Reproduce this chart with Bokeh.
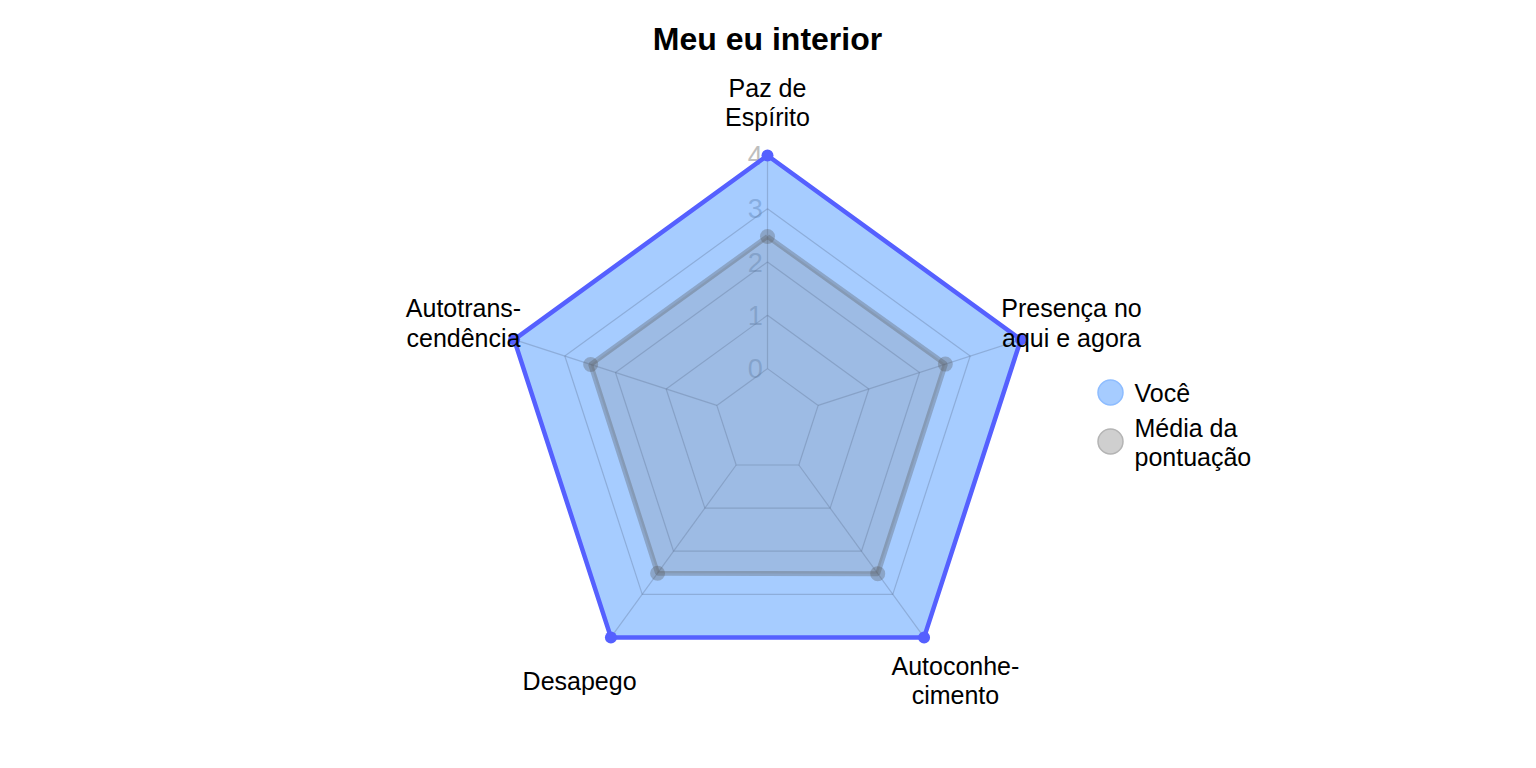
import numpy as np
from bokeh.plotting import figure
from bokeh.models import Range1d
from bokeh.core.properties import value
from bokeh.embed import file_html
from bokeh.resources import INLINE

# ---- data ----
categories = ["Paz de\nEspírito", "Autotrans-\ncendência", "Desapego",
              "Autoconhe-\ncimento", "Presença no\naqui e agora"]
voce = [4, 4, 4, 4, 4]
media = [2.48, 2.49, 2.51, 2.52, 2.51]
levels = [0, 1, 2, 3, 4]
level_labels = ["0", "1", "2", "3", "4"]
series_names = ["Você", "Média da\npontuação"]
title_text = "Meu eu interior"

# ---- geometry ----
W, H = 1536, 768
PX = 53.28          # pixels per data unit
CX, CY = 767, 421.4  # centre in pixels (from top-left)
n = len(categories)
ang = np.pi / 2 + np.arange(n) * 2 * np.pi / n  # counter-clockwise from top


def rad(v):
    return np.asarray(v, dtype=float) + 1.0   # fmsb-style: min value at 1/(seg+1)


def xy(vals):
    r = rad(vals)
    return list(r * np.cos(ang)), list(r * np.sin(ang))


p = figure(width=W, height=H, output_backend="svg", toolbar_location=None,
           x_range=Range1d(-CX / PX, (W - CX) / PX),
           y_range=Range1d(-(H - CY) / PX, CY / PX),
           min_border=0, outline_line_color=None)
p.axis.visible = False
p.grid.visible = False
p.background_fill_color = "white"
p.border_fill_color = "white"

FONT = value("Liberation Sans")

# axis value labels (drawn beneath the fills)
p.text(x=[-0.09] * len(levels), y=list(rad(levels)), text=level_labels,
       text_font=FONT, text_font_size="27px", text_color="#bebebe",
       text_align="right", text_baseline="middle")

# Você polygon
vx, vy = xy(voce)
p.patch(vx, vy, fill_color="#4d99ff", fill_alpha=0.5, line_color=None)
# Média polygon
mx, my = xy(media)
p.patch(mx, my, fill_color="#808080", fill_alpha=0.21, line_color=None)

# grid rings
for lv in levels:
    gx, gy = xy([lv] * n)
    p.line(gx + [gx[0]], gy + [gy[0]], line_color="#5a6e8c", line_alpha=0.32, line_width=1.2)
# radial axes from inner ring to outer ring
r0, r1 = rad(levels[0]), rad(levels[-1])
p.segment(x0=list(r0 * np.cos(ang)), y0=list(r0 * np.sin(ang)),
          x1=list(r1 * np.cos(ang)), y1=list(r1 * np.sin(ang)),
          line_color="#5a6e8c", line_alpha=0.32, line_width=1.2)

# outlines
p.line(mx + [mx[0]], my + [my[0]], line_color="#555555", line_alpha=0.32, line_width=5)
p.scatter(mx, my, size=15, fill_color="#555555", fill_alpha=0.32, line_color=None)
p.line(vx + [vx[0]], vy + [vy[0]], line_color="#5560ff", line_width=4.5)
p.scatter(vx, vy, size=12, fill_color="#5560ff", line_color=None)

# category labels
lx = list(1.2 * 5 * np.cos(ang))
ly = list(1.2 * 5 * np.sin(ang))
p.text(x=lx, y=ly, text=categories, text_font=FONT, text_font_size="25px",
       text_color="black", text_align="center", text_baseline="middle",
       text_line_height=1.05)

# title
p.text(x=[0], y=[(CY - 38) / PX], text=[title_text], text_font=FONT,
       text_font_size="32px", text_font_style="bold", text_color="black",
       text_align="center", text_baseline="middle")

# legend
leg_x = (1110 - CX) / PX
leg_y = [(CY - 392) / PX, (CY - 441) / PX]
p.scatter([leg_x], [leg_y[0]], size=25, fill_color="#a6ccff", line_color="#8dbcff", line_width=1.5)
p.scatter([leg_x], [leg_y[1]], size=25, fill_color="#cfcfcf", line_color="#b4b4b4", line_width=1.5)
p.text(x=[(1134 - CX) / PX] * 2, y=[leg_y[0], (CY - 442) / PX], text=series_names,
       text_font=FONT, text_font_size="25px", text_color="black",
       text_align="left", text_baseline="middle", text_line_height=1.05)

open("out.html", "w").write(file_html(p, INLINE))
